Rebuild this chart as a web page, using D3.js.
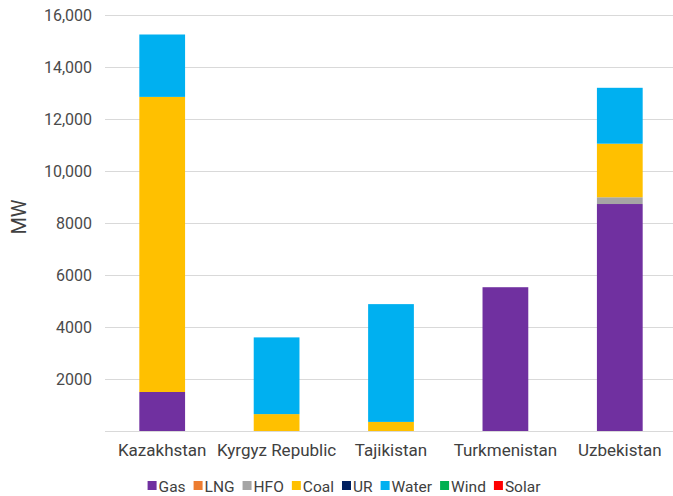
<!DOCTYPE html>
<html><head><meta charset="utf-8">
<script src="https://cdn.jsdelivr.net/npm/d3@7"></script>
<style>
html,body{margin:0;padding:0;background:#fff;}
svg{display:block;font-family:Roboto,"Noto Sans",sans-serif;}
</style></head>
<body>
<svg id="chart" width="673" height="496"></svg>
<script>
const categories = ["Kazakhstan","Kyrgyz Republic","Tajikistan","Turkmenistan","Uzbekistan"];
const seriesNames = ["Gas","LNG","HFO","Coal","UR","Water","Wind","Solar"];
const seriesColors = ["#7030A0","#ED7D31","#A5A5A5","#FFC000","#002060","#00B0F0","#00B050","#FF0000"];
const gas   = [1500, 0, 0, 5530, 8730];
const lng   = [0, 0, 0, 0, 0];
const hfo   = [0, 0, 0, 0, 260];
const coal  = [11350, 650, 350, 0, 2060];
const ur    = [0, 0, 0, 0, 0];
const water = [2400, 2950, 4530, 0, 2150];
const wind  = [0, 0, 0, 0, 0];
const solar = [0, 0, 0, 0, 0];
const tickValues = [2000,4000,6000,8000,10000,12000,14000,16000];
const tickLabels = ["2000","4000","6000","8000","10,000","12,000","14,000","16,000"];
const yTitle = "MW";

const seriesVals = [gas,lng,hfo,coal,ur,water,wind,solar];
const rows = categories.map((c,i)=>{
  const r = {cat:c};
  seriesNames.forEach((s,j)=>{ r[s]=seriesVals[j][i]; });
  return r;
});

const svg = d3.select("#chart");
const x = d3.scaleBand().domain(categories).range([105,677]).paddingInner(0.6).paddingOuter(0.3);
const y = d3.scaleLinear().domain([0,16000]).range([431,15]);

// gridlines
const grid = svg.append("g").attr("transform","translate(105,0)")
  .call(d3.axisLeft(y).tickValues([0].concat(tickValues)).tickSize(-(677-105)).tickFormat(""));
grid.select(".domain").remove();
grid.selectAll("line").attr("stroke","#d9d9d9").attr("stroke-width",1);

// y tick labels
const yAxis = svg.append("g").attr("transform","translate(105,0)")
  .call(d3.axisLeft(y).tickValues(tickValues).tickSize(0).tickPadding(13)
    .tickFormat((d,i)=>tickLabels[i]));
yAxis.select(".domain").remove();
yAxis.selectAll("text").attr("font-size","16px").attr("fill","#4a4a4a")
  .attr("font-family","Roboto, sans-serif");

// bars
const stack = d3.stack().keys(seriesNames)(rows);
svg.append("g").selectAll("g").data(stack).join("g")
  .attr("fill",(d,i)=>seriesColors[i])
  .selectAll("rect").data(d=>d.filter(v=>v[1]-v[0]>0)).join("rect")
  .attr("x",d=>x(d.data.cat))
  .attr("width",x.bandwidth())
  .attr("y",d=>y(d[1]))
  .attr("height",d=>y(d[0])-y(d[1]));

// x axis labels
const xAxis = svg.append("g").attr("transform","translate(0,431)")
  .call(d3.axisBottom(x).tickSize(0).tickPadding(13));
xAxis.select(".domain").remove();
xAxis.selectAll("text").attr("font-size","17px").attr("fill","#404040")
  .attr("font-family","Roboto, sans-serif");

// y title
svg.append("text").attr("transform","translate(26,217) rotate(-90)")
  .attr("text-anchor","middle").attr("font-size","20px").attr("fill","#404040")
  .text(yTitle);

// legend
const lg = svg.append("g");
let cx = 0;
seriesNames.forEach((s,i)=>{
  const g = lg.append("g");
  g.append("rect").attr("x",0).attr("y",-5).attr("width",9).attr("height",9).attr("fill",seriesColors[i]);
  const t = g.append("text").attr("x",11).attr("y",5.5).attr("font-size","15.5px").attr("fill","#404040").text(s);
  const w = 11 + t.node().getComputedTextLength();
  g.attr("transform",`translate(${cx},486)`);
  cx += w + 8;
});
const totalW = cx - 8;
lg.attr("transform",`translate(${344 - totalW/2},0)`);
</script>
</body></html>
